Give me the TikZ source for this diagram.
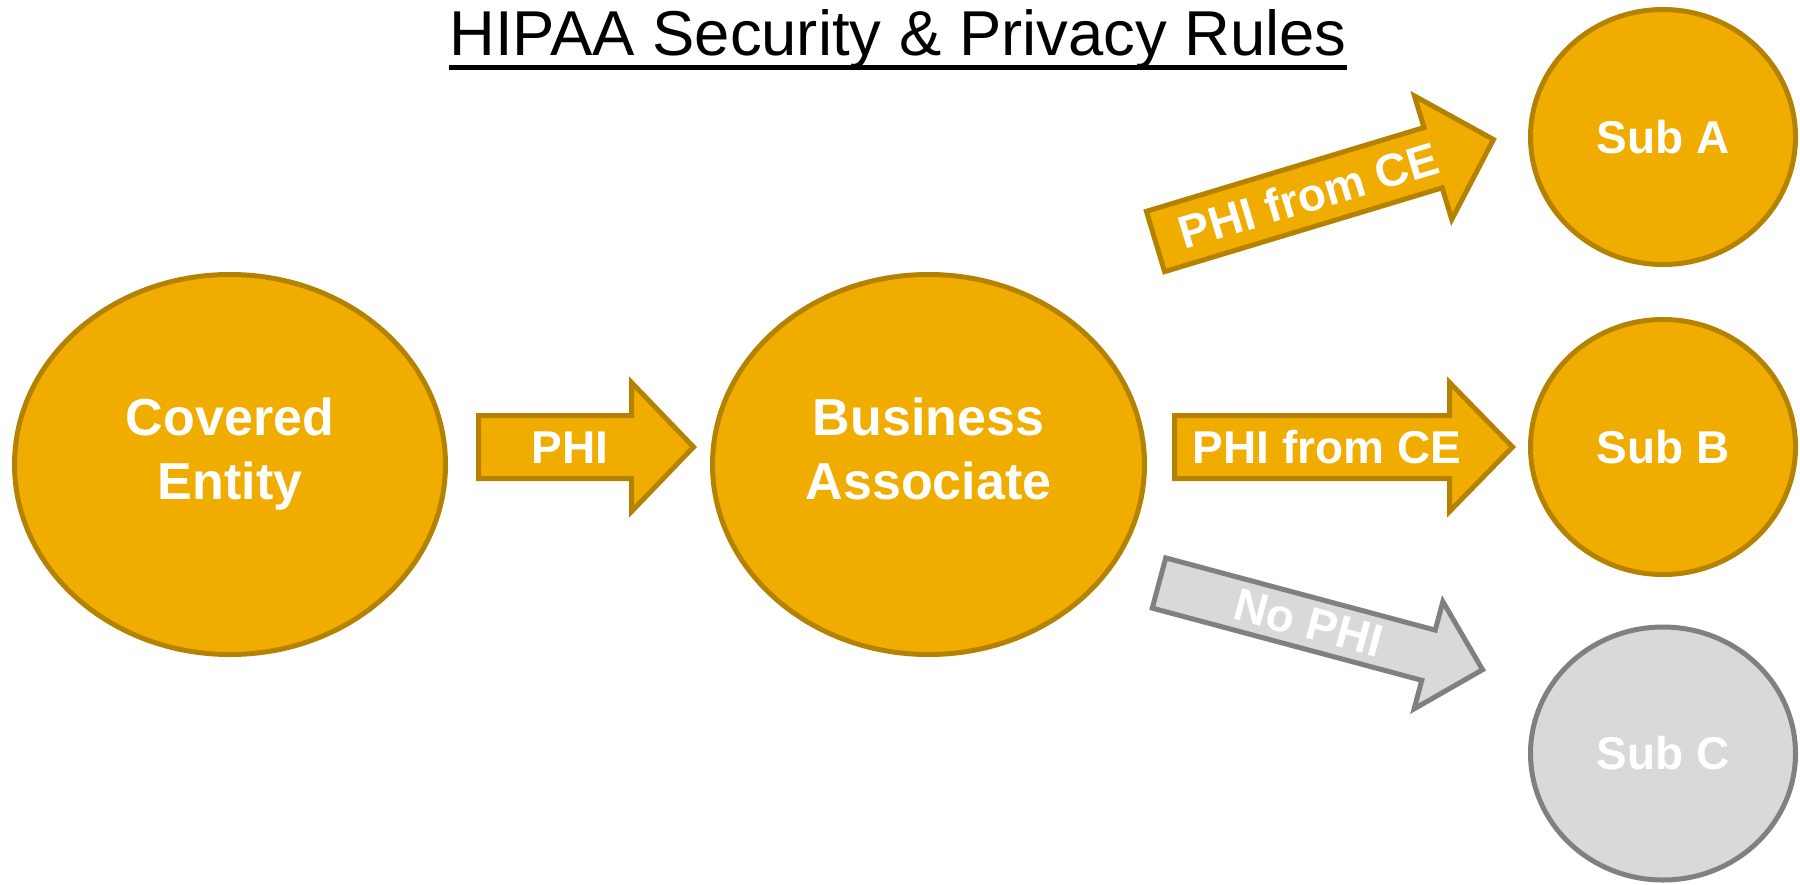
\documentclass[tikz,border=0pt]{standalone}
\usepackage{fontspec}
\setmainfont{Liberation Sans}
\usetikzlibrary{shapes.geometric,calc}
\definecolor{gold}{RGB}{240,173,0}
\definecolor{goldline}{RGB}{181,130,0}
\definecolor{greyfill}{RGB}{217,217,217}
\definecolor{greyline}{RGB}{128,128,128}
\begin{document}
\begin{tikzpicture}[x=1pt,y=1pt,
  bubble/.style={ellipse, draw=goldline, fill=gold, line width=5pt, inner sep=0pt,
                 text=white, font=\bfseries\fontsize{46}{55}\selectfont},
  greybubble/.style={bubble, draw=greyline, fill=greyfill},
  bigtext/.style={text=white, font=\bfseries\fontsize{52}{64}\selectfont, align=center, inner sep=0pt},
  arrowtext/.style={text=white, font=\bfseries\fontsize{46}{55}\selectfont, inner sep=0pt},
  blockarrow/.style={draw=goldline, fill=gold, line width=5pt, line join=miter},
  greyarrow/.style={blockarrow, draw=greyline, fill=greyfill},
  titletext/.style={font=\fontsize{63.4}{76}\selectfont, inner sep=0pt},
  pics/barrow/.style n args={4}{code={
    \path[pic actions] (0,-#2) -- ({#1-#4},-#2) -- ({#1-#4},-#3) -- (#1,0)
      -- ({#1-#4},#3) -- ({#1-#4},#2) -- (0,#2) -- cycle;
  }},
]
\useasboundingbox (0,0) rectangle (1800,-884);

% title
\node[titletext, anchor=base] (title) at (898,-55) {HIPAA Security \& Privacy Rules};
\draw[line width=4.5pt] ($(title.base west)+(0,-12.5)$) -- ($(title.base east)+(0,-12.5)$);

% main circles
\node[bubble, minimum width=431pt, minimum height=380pt] (ce) at (230,-464.5) {};
\node[bigtext] (cetext) at (230,-454) {Covered\\Entity};
\node[bubble, minimum width=432pt, minimum height=380pt] (ba) at (928.5,-464.5) {};
\node[bigtext] (batext) at (928.5,-448.5) {Business\\Associate};

% sub circles
\node[bubble, minimum width=265pt, minimum height=255pt] (suba) at (1663,-137) {Sub A};
\node[bubble, minimum width=265pt, minimum height=255pt] (subb) at (1663,-447) {Sub B};
\node[greybubble, minimum width=265pt, minimum height=253pt] (subc) at (1663,-753.5) {Sub C};

% block arrows
\coordinate (a1) at (478.5,-447);
\pic[blockarrow] at (a1) {barrow={215}{31.5}{64.5}{62}};
\node[arrowtext] (t1) at (570,-447.5) {PHI};

\coordinate (a2) at (1174.5,-447);
\pic[blockarrow] at (a2) {barrow={338}{31.5}{64.5}{63}};
\node[arrowtext] (t2) at (1327,-447) {PHI from CE};

\coordinate (a3) at (1155.5,-241.5);
\pic[blockarrow, rotate=16.8] at (a3) {barrow={353}{31.5}{64.5}{63}};
\node[arrowtext, rotate=16.8] (t3) at ($(a3)+(16.8:160)$) {PHI from CE};

\coordinate (a4) at (1159,-583);
\pic[greyarrow, rotate=-15] at (a4) {barrow={335}{26}{55.5}{56}};
\node[arrowtext, rotate=-15] (t4) at ($(a4)+(-15:155)$) {No PHI};
\end{tikzpicture}
\end{document}
